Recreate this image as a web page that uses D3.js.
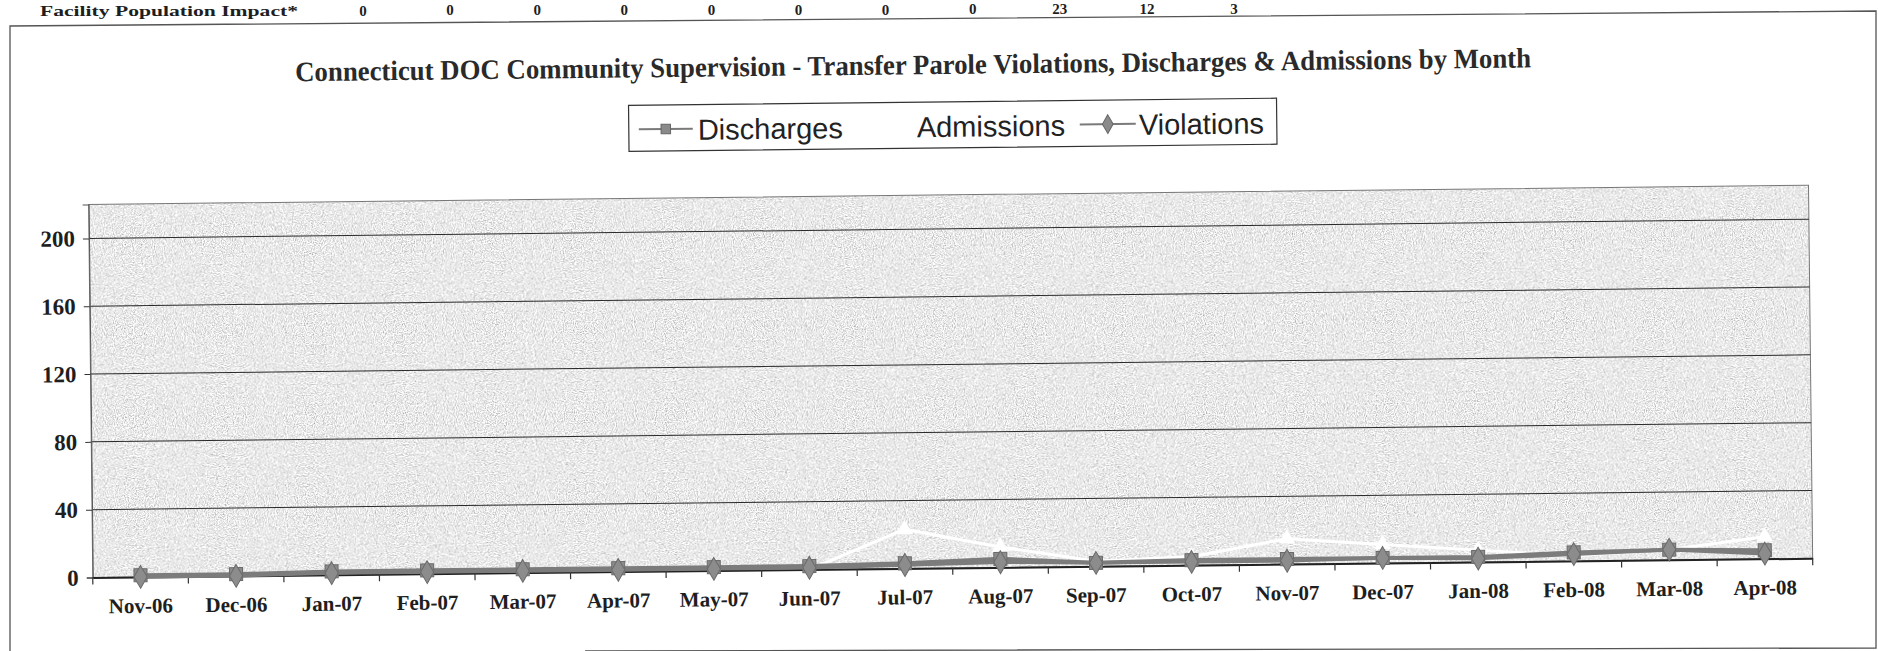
<!DOCTYPE html>
<html>
<head>
<meta charset="utf-8">
<script src="https://cdn.jsdelivr.net/npm/d3@7"></script>
<style>
  html, body { margin: 0; padding: 0; background: #ffffff; }
  svg { display: block; }
</style>
</head>
<body>
<svg id="chart" width="1878" height="651"></svg>
<script>
// ---------------- data ----------------
const months = ["Nov-06","Dec-06","Jan-07","Feb-07","Mar-07","Apr-07","May-07","Jun-07","Jul-07",
                "Aug-07","Sep-07","Oct-07","Nov-07","Dec-07","Jan-08","Feb-08","Mar-08","Apr-08"];
const discharges = [1,1,2,2,2,2,2,2,3,5,2,3,3,3,3,5,6,5];
const admissions = [0,0,0,0,0,0,0,0,23,12,3,5,15,11,7,3,6,13];
const violations = [0,0,1,1,1,1,1,1,2,3,2,2,2,3,2,4,6,3];
const yTicks = [0,40,80,120,160,200];
const yMax = 220;
const titleText = "Connecticut DOC Community Supervision - Transfer Parole Violations, Discharges & Admissions by Month";
const seriesNames = ["Discharges","Admissions","Violations"];
const impactLabel = "Facility Population Impact*";
const impactValues = ["0","0","0","0","0","0","0","0","23","12","3"];

// ---------------- layout ----------------
const W = 1878, H = 651;
const plot = {left: 90, right: 1810, top: 195, bottom: 568};
const serif = "'Liberation Serif','Times New Roman',Times,serif";
const sans = "'Liberation Sans',Arial,Helvetica,sans-serif";
const ink = "#1e1e1e";

const svg = d3.select("#chart");
const defs = svg.append("defs");
const f = defs.append("filter").attr("id","noise")
  .attr("x",0).attr("y",0).attr("width","100%").attr("height","100%");
f.append("feTurbulence").attr("type","fractalNoise").attr("baseFrequency","0.9")
  .attr("numOctaves",2).attr("seed",3).attr("stitchTiles","stitch").attr("result","t");
f.append("feColorMatrix").attr("in","t").attr("type","matrix")
  .attr("values","1.25 0 0 0 0.19  1.25 0 0 0 0.19  1.25 0 0 0 0.19  0 0 0 0 1");

// outer border (scan frame)
svg.append("path")
  .attr("d","M10,651 L10,26 L1876,11 L1876,648 L585,651")
  .attr("fill","none").attr("stroke","#555").attr("stroke-width",1.3);

// top table row (partly cropped in the source)
const impactX = d3.scaleLinear().domain([0,10]).range([363, 1234]);
svg.append("text").attr("x",40).attr("y",16).attr("font-family",serif).attr("font-weight","bold")
  .attr("font-size",15).attr("fill",ink).attr("textLength",258).attr("lengthAdjust","spacingAndGlyphs")
  .text(impactLabel);
svg.selectAll("text.imp").data(impactValues).join("text").attr("class","imp")
  .attr("x",(d,i)=>impactX(i)).attr("y",(d,i)=>15.5 - i*0.15).attr("text-anchor","middle")
  .attr("font-family",serif).attr("font-weight","bold").attr("font-size",15).attr("fill",ink)
  .text(d=>d);

const g = svg.append("g").attr("transform","rotate(-0.64 939 325)");

const x = d3.scaleBand().domain(months).range([plot.left, plot.right]).padding(0);
const y = d3.scaleLinear().domain([0, yMax]).range([plot.bottom, plot.top]);

// title
g.append("text").attr("x",916).attr("y",74).attr("text-anchor","middle")
  .attr("font-family",serif).attr("font-weight","bold").attr("font-size",28).attr("fill","#2a2a2a")
  .attr("textLength",1236).attr("lengthAdjust","spacingAndGlyphs")
  .text(titleText);

// legend
const lg = g.append("g");
lg.append("rect").attr("x",631).attr("y",102).attr("width",648).attr("height",46)
  .attr("fill","#fff").attr("stroke","#333").attr("stroke-width",1.2);
const legY = 126;
const legItems = [
  {name: seriesNames[0], x0: 641, x1: 695, tx: 700, shape: d3.symbolSquare, color: "#8a8a8a", line: "#7a7a7a"},
  {name: seriesNames[1], x0: 860, x1: 914, tx: 919, shape: d3.symbolTriangle, color: "#ffffff", line: "#ffffff"},
  {name: seriesNames[2], x0: 1082, x1: 1138, tx: 1141, shape: d3.symbolDiamond, color: "#8a8a8a", line: "#7a7a7a"}
];
legItems.forEach(it => {
  lg.append("line").attr("x1",it.x0).attr("x2",it.x1).attr("y1",legY).attr("y2",legY)
    .attr("stroke",it.line).attr("stroke-width",2);
  lg.append("path").attr("transform",`translate(${(it.x0+it.x1)/2},${legY})`)
    .attr("d", d3.symbol().type(it.shape).size(it.shape===d3.symbolDiamond?100:90)())
    .attr("fill",it.color).attr("stroke",it.color==="#ffffff"?"#ffffff":"#666").attr("stroke-width",1);
  lg.append("text").attr("x",it.tx).attr("y",legY+11).attr("font-family",sans)
    .attr("font-size",29).attr("fill","#222").text(it.name);
});

// plot area
g.append("rect").attr("x",plot.left).attr("y",plot.top)
  .attr("width",plot.right-plot.left).attr("height",plot.bottom-plot.top)
  .attr("fill","#cfcfcf").attr("filter","url(#noise)");
g.append("rect").attr("x",plot.left).attr("y",plot.top)
  .attr("width",plot.right-plot.left).attr("height",plot.bottom-plot.top)
  .attr("fill","none").attr("stroke","#777").attr("stroke-width",1);

// gridlines
g.selectAll("line.grid").data(yTicks.filter(d=>d>0)).join("line").attr("class","grid")
  .attr("x1",plot.left).attr("x2",plot.right).attr("y1",d=>y(d)).attr("y2",d=>y(d))
  .attr("stroke","#2a2a2a").attr("stroke-width",1);

// y axis
const yAxis = g.append("g").attr("transform",`translate(${plot.left},0)`)
  .call(d3.axisLeft(y).tickValues(yTicks).tickSize(6).tickPadding(8).tickFormat(d3.format("d")));
yAxis.select(".domain").attr("stroke","#555");
yAxis.selectAll(".tick line").attr("stroke","#333");
yAxis.selectAll(".tick text").attr("font-family",serif).attr("font-weight","bold")
  .attr("font-size",23).attr("fill",ink);

// admissions (white) drawn under axis line
const line = d3.line().x((d,i)=>x(months[i]) + x.bandwidth()/2).y(d=>y(d));
g.append("path").datum(admissions).attr("d",line).attr("fill","none")
  .attr("stroke","#ffffff").attr("stroke-width",3);
g.selectAll("path.adm").data(admissions).join("path").attr("class","adm")
  .attr("transform",(d,i)=>`translate(${x(months[i])+x.bandwidth()/2},${y(d)})`)
  .attr("d",d3.symbol().type(d3.symbolTriangle).size(120)())
  .attr("fill","#ffffff");

// x axis
const xAxis = g.append("g").attr("transform",`translate(0,${plot.bottom})`)
  .call(d3.axisBottom(x).tickSize(0).tickPadding(21));
xAxis.select(".domain").attr("stroke","#222").attr("stroke-width",2);
xAxis.selectAll(".tick text").attr("font-family",serif).attr("font-weight","bold")
  .attr("font-size",21).attr("fill",ink);
const bounds = months.map(m=>x(m)).concat([x.range()[1]]);
g.selectAll("line.xt").data(bounds).join("line").attr("class","xt")
  .attr("x1",d=>d).attr("x2",d=>d).attr("y1",plot.bottom).attr("y2",plot.bottom+7)
  .attr("stroke","#333").attr("stroke-width",1.2);

// discharges
g.append("path").datum(discharges).attr("d",line).attr("fill","none")
  .attr("stroke","#7c7c7c").attr("stroke-width",4);
g.selectAll("path.dis").data(discharges).join("path").attr("class","dis")
  .attr("transform",(d,i)=>`translate(${x(months[i])+x.bandwidth()/2},${y(d)})`)
  .attr("d",d3.symbol().type(d3.symbolSquare).size(170)())
  .attr("fill","#8c8c8c").attr("stroke","#6a6a6a").attr("stroke-width",1);

// violations
g.append("path").datum(violations).attr("d",line).attr("fill","none")
  .attr("stroke","#7c7c7c").attr("stroke-width",3.5);
g.selectAll("path.vio").data(violations).join("path").attr("class","vio")
  .attr("transform",(d,i)=>`translate(${x(months[i])+x.bandwidth()/2},${y(d)})`)
  .attr("d",d3.symbol().type(d3.symbolDiamond).size(150)())
  .attr("fill","#8c8c8c").attr("stroke","#6a6a6a").attr("stroke-width",1);
</script>
</body>
</html>
